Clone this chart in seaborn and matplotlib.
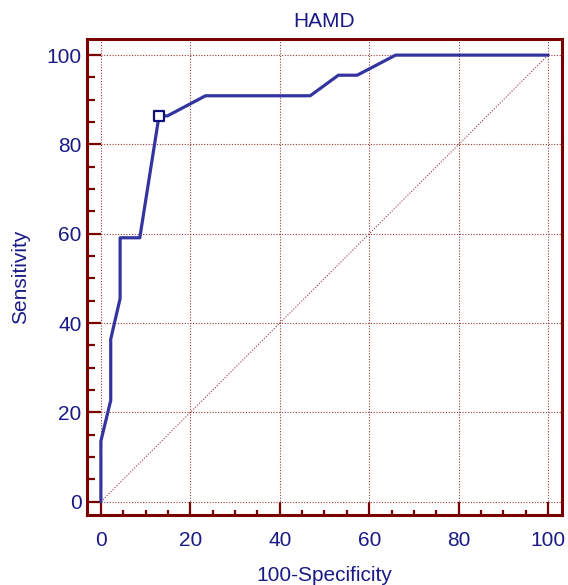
import matplotlib
matplotlib.use("Agg")
import matplotlib.pyplot as plt
import seaborn as sns
import pandas as pd
from matplotlib.ticker import MultipleLocator

# data
fpr = [0, 0, 2.2, 2.2, 4.3, 4.3, 8.7, 13.0, 14.9, 23.4, 46.8, 53.1, 57.3, 65.9, 100]
tpr = [0, 13.6, 22.7, 36.4, 45.5, 59.1, 59.1, 86.4, 86.4, 90.9, 90.9, 95.5, 95.5, 100, 100]
crit_x = [13.0]
crit_y = [86.4]
diag = [0, 100]
ticks = [0, 20, 40, 60, 80, 100]
title = "HAMD"
xlabel = "100-Specificity"
ylabel = "Sensitivity"

sns.set_theme(style="white")
plt.rcParams["font.family"] = ["Liberation Sans", "DejaVu Sans"]

maroon = "#7a0000"
navy_text = "#1a1a86"
curve_col = "#3434a0"
grid_col = "#9a3a3a"

fig = plt.figure(figsize=(5.68, 5.85), dpi=100)
ax = fig.add_axes([0.1532, 0.1202, 0.9886 - 0.1532, 0.9325 - 0.1202])

df = pd.DataFrame({"x": fpr, "y": tpr})
ddf = pd.DataFrame({"x": diag, "y": diag})

sns.lineplot(data=ddf, x="x", y="y", ax=ax, color=grid_col, linestyle=(0, (1, 1.5)),
             linewidth=0.8, sort=False, estimator=None)
sns.lineplot(data=df, x="x", y="y", ax=ax, color=curve_col, linewidth=2.3,
             sort=False, estimator=None, zorder=3)
sns.scatterplot(x=crit_x, y=crit_y, ax=ax, marker="s", s=55, facecolor="white",
                edgecolor="#10107a", linewidth=1.6, zorder=4)

ax.set_xlim(-3.1, 103)
ax.set_ylim(-2.9, 103.5)
ax.set_xticks(ticks)
ax.set_yticks(ticks)
ax.xaxis.set_minor_locator(MultipleLocator(5))
ax.yaxis.set_minor_locator(MultipleLocator(5))

ax.grid(True, which="major", color=grid_col, linestyle=(0, (1, 1.5)), linewidth=0.8)
ax.set_axisbelow(True)

for sp in ax.spines.values():
    sp.set_color(maroon)
    sp.set_linewidth(2.2)
    sp.set_visible(True)

fs = 15
ax.tick_params(axis="x", which="major", direction="in", length=9.4, width=1.6,
               color=maroon, labelcolor=navy_text, labelsize=fs, pad=12, bottom=True)
ax.tick_params(axis="x", which="minor", direction="in", length=3.6, width=1.6,
               color=maroon, bottom=True)
ax.tick_params(axis="y", which="major", direction="in", length=10, width=1.6,
               color=maroon, labelcolor=navy_text, labelsize=fs, pad=4, left=True)
ax.tick_params(axis="y", which="minor", direction="in", length=5.8, width=1.6,
               color=maroon, left=True)

ax.set_xlabel(xlabel, fontsize=fs, color=navy_text, labelpad=11)
ax.set_ylabel(ylabel, fontsize=fs, color=navy_text, labelpad=12)
ax.set_title(title, fontsize=fs, color=navy_text, pad=9)

fig.savefig("out.png", dpi=100)
